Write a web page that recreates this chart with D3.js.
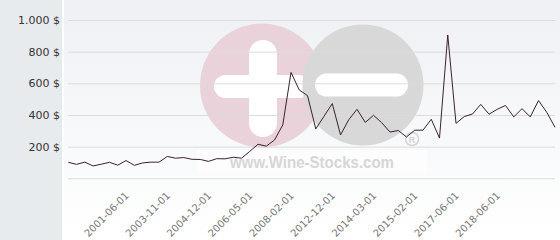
<!DOCTYPE html>
<html>
<head>
<meta charset="utf-8">
<script src="https://cdn.jsdelivr.net/npm/d3@7"></script>
<style>
  body { margin: 0; background: #fff; }
  svg { display: block; }
</style>
</head>
<body>
<div id="chart"></div>
<script>
// prices, one per category (in $)
var prices = [101, 88, 102, 78, 89, 101, 83, 112, 82, 97,
              102, 102, 138, 127, 131, 120, 119, 107, 124, 123,
              133, 127, 170, 215, 203, 242, 337, 669, 558, 522,
              312, 392, 472, 274, 370, 436, 353, 398, 351, 292,
              302, 261, 304, 304, 373, 254, 905, 347, 390, 406,
              467, 405, 436, 460, 388, 440, 388, 491, 417, 322];

// which categories carry a date label, and the labels
var tickIndex = [7, 12, 17, 22, 27, 32, 37, 42, 47, 52];
var tickLabels = ["2001-06-01", "2003-11-01", "2004-12-01", "2006-05-01", "2008-02-01",
                  "2012-12-01", "2014-03-01", "2015-02-01", "2017-06-01", "2018-06-01"];

var yTicks = [0, 200, 400, 600, 800, 1000];
var yTickLabels = ["", "200 $", "400 $", "600 $", "800 $", "1.000 $"];

var svgWidth = 560, svgHeight = 240;
var plotLeft = 64;

var svg = d3.select("#chart").append("svg")
    .attr("width", svgWidth)
    .attr("height", svgHeight);

var defs = svg.append("defs");
var grad = defs.append("linearGradient")
    .attr("id", "bg").attr("x1", 0).attr("y1", 0).attr("x2", 0).attr("y2", 1);
grad.append("stop").attr("offset", "0%").attr("stop-color", "#eef0f4");
grad.append("stop").attr("offset", "100%").attr("stop-color", "#ffffff");

// left band + plot background
svg.append("rect").attr("x", 0).attr("y", 0).attr("width", 62).attr("height", svgHeight)
    .attr("fill", "#e7ebee");
svg.append("rect").attr("x", plotLeft).attr("y", 0).attr("width", svgWidth - plotLeft).attr("height", svgHeight)
    .attr("fill", "url(#bg)");

var x = d3.scalePoint()
    .domain(d3.range(prices.length))
    .range([68.3, 555]);

var y = d3.scaleLinear()
    .domain([0, 1000])
    .range([178.3, 20]);

// watermark
var wm = svg.append("g").attr("class", "watermark");
wm.append("rect").attr("x", 197).attr("y", 150).attr("width", 230).attr("height", 24)
    .attr("fill", "#ffffff").attr("opacity", 0.6);
wm.append("circle").attr("cx", 262).attr("cy", 85.5).attr("r", 62).attr("fill", "#e9d2da");
wm.append("rect").attr("x", 249).attr("y", 40).attr("width", 28).attr("height", 97)
    .attr("rx", 14).attr("fill", "#ffffff");
wm.append("rect").attr("x", 214).attr("y", 75).attr("width", 96).attr("height", 23)
    .attr("rx", 11.5).attr("fill", "#ffffff");
wm.append("circle").attr("cx", 363).attr("cy", 85).attr("r", 60.5).attr("fill", "#d8d8d8");
wm.append("rect").attr("x", 315).attr("y", 73.5).attr("width", 93).attr("height", 23)
    .attr("rx", 11.5).attr("fill", "#ffffff");
wm.append("circle").attr("cx", 412).attr("cy", 139).attr("r", 6.5)
    .attr("fill", "none").attr("stroke", "#d4d4d4").attr("stroke-width", 1.5);
wm.append("text").attr("x", 412).attr("y", 142.5).attr("text-anchor", "middle")
    .attr("font-family", "Liberation Sans, Arial, sans-serif").attr("font-weight", "bold")
    .attr("font-size", 9).attr("fill", "#d4d4d4").text("R");
wm.append("text").attr("x", 230).attr("y", 167.5)
    .attr("font-family", "Liberation Sans, Arial, sans-serif").attr("font-weight", "bold")
    .attr("font-size", 16.5).attr("fill", "#d6d6d6")
    .attr("textLength", 164).attr("lengthAdjust", "spacingAndGlyphs")
    .text("www.Wine-Stocks.com");

// gridlines
var grid = svg.append("g")
    .attr("transform", "translate(68,0)")
    .call(d3.axisLeft(y).tickValues(yTicks).tickSize(-(555 - 68)).tickFormat(""));
grid.select(".domain").remove();
grid.selectAll("line").attr("stroke", "#dcdcdc").attr("stroke-width", 1);

// y labels
var yAxis = svg.append("g")
    .attr("transform", "translate(60,0)")
    .call(d3.axisLeft(y).tickValues(yTicks).tickSize(0).tickPadding(0)
        .tickFormat(function(d, i) { return yTickLabels[i]; }));
yAxis.select(".domain").remove();
yAxis.selectAll("text")
    .attr("font-family", "DejaVu Sans, sans-serif")
    .attr("font-size", 11)
    .attr("fill", "#333");

// x labels
var xAxis = svg.append("g")
    .attr("transform", "translate(0,178.3)")
    .call(d3.axisBottom(x).tickValues(tickIndex).tickSize(0)
        .tickFormat(function(d, i) { return tickLabels[i]; }));
xAxis.select(".domain").remove();
xAxis.selectAll("text")
    .attr("font-family", "DejaVu Sans, sans-serif")
    .attr("font-size", 10)
    .attr("fill", "#777")
    .attr("text-anchor", "end")
    .attr("y", 0).attr("dy", 0)
    .attr("transform", "translate(3,18) rotate(-45)");

// price line
var line = d3.line()
    .x(function(d, i) { return x(i); })
    .y(function(d) { return y(d); });

svg.append("path")
    .datum(prices)
    .attr("d", line)
    .attr("fill", "none")
    .attr("stroke", "#3a2230")
    .attr("stroke-width", 1)
    .attr("stroke-linejoin", "miter");
</script>
</body>
</html>
